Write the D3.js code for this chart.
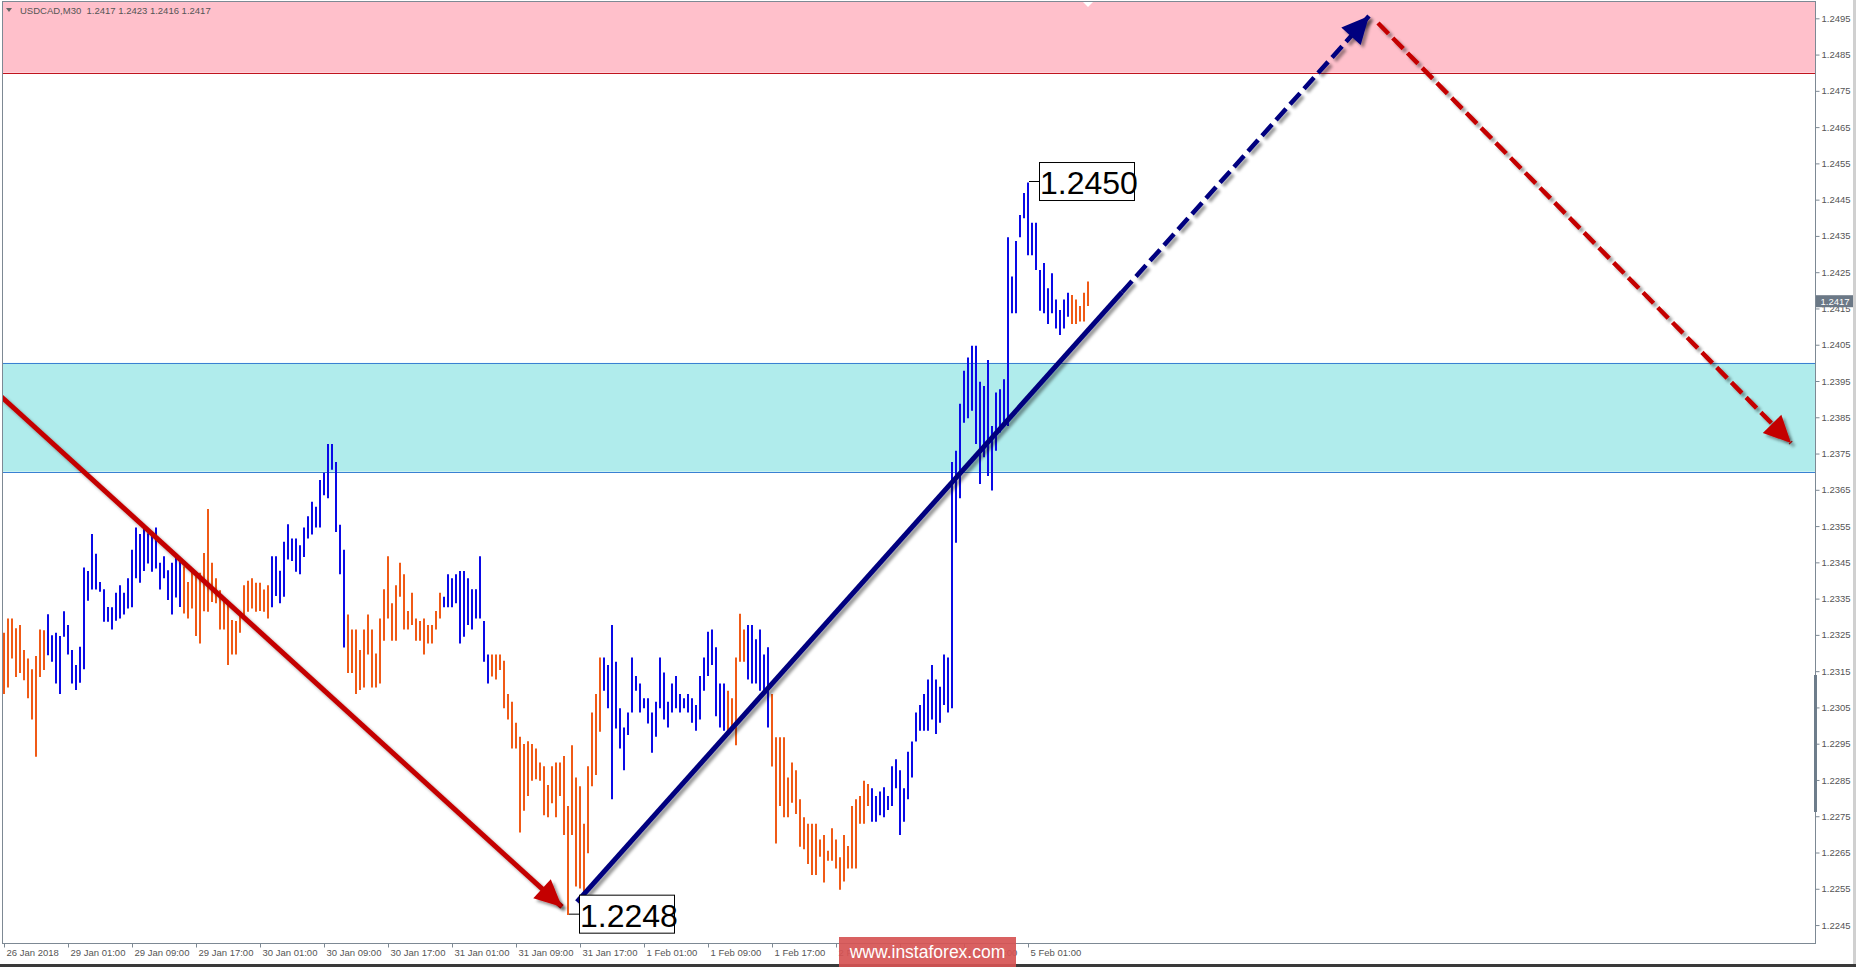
<!DOCTYPE html>
<html><head><meta charset="utf-8">
<script src="https://cdn.jsdelivr.net/npm/d3@7"></script>
<style>
html,body{margin:0;padding:0;background:#fff;}
svg{display:block;}
</style></head>
<body>
<svg id="c" width="1856" height="967"></svg>
<script>
// ---------- DATA ----------
const symbolTitle = "USDCAD,M30  1.2417 1.2423 1.2416 1.2417";

const highs = [
1.23256,1.23295,1.23295,1.23268,1.23277,1.23208,1.23185,1.23155,1.23192,1.23265,
1.23263,1.23307,1.23249,1.23256,1.23247,1.23315,1.23277,1.23208,1.23167,1.23217,
1.23436,1.23426,1.23528,1.23474,1.23396,1.23376,1.23327,1.23326,1.23366,1.23387,
1.23366,1.23406,1.23485,1.23546,1.23528,1.23546,1.23530,1.23528,1.23546,1.23449,
1.23467,1.23428,1.23449,1.23470,1.23465,1.23439,1.23396,1.23426,1.23412,1.23421,
1.23476,1.23597,1.23449,1.23406,1.23373,1.23346,1.23341,1.23291,1.23288,1.23316,
1.23387,1.23399,1.23406,1.23394,1.23394,1.23375,1.23387,1.23467,1.23467,1.23427,
1.23507,1.23555,1.23516,1.23516,1.23497,1.23546,1.23577,1.23617,1.23603,1.23677,
1.23697,1.23776,1.23776,1.23727,1.23554,1.23485,1.23306,1.23265,1.23265,1.23208,
1.23265,1.23306,1.23265,1.23199,1.23295,1.23376,1.23467,1.23337,1.23387,1.23449,
1.23417,1.23316,1.23366,1.23295,1.23288,1.23295,1.23277,1.23277,1.23316,1.23366,
1.23355,1.23417,1.23406,1.23417,1.23426,1.23426,1.23406,1.23376,1.23376,1.23467,
1.23288,1.23196,1.23196,1.23196,1.23196,1.23179,1.23087,1.23066,1.23008,1.22969,
1.22949,1.22957,1.22949,1.22937,1.22898,1.22888,1.22836,1.22888,1.22898,1.22898,
1.22916,1.22778,1.22946,1.22857,1.22833,1.22729,1.22888,1.23036,1.23087,1.23188,
1.23188,1.23167,1.23277,1.23176,1.23048,1.22995,1.23036,1.23188,1.23137,1.23116,
1.23075,1.23075,1.23036,1.23066,1.23188,1.23146,1.23066,1.23116,1.23137,1.23087,
1.23075,1.23087,1.23075,1.23057,1.23137,1.23188,1.23259,1.23265,1.23216,1.23116,
1.23116,1.23096,1.23075,1.23188,1.23308,1.23265,1.23277,1.23277,1.23238,1.23265,
1.23196,1.23216,1.23087,1.22968,1.22968,1.22968,1.22857,1.22898,1.22877,1.22797,
1.22747,1.22729,1.22729,1.22729,1.22686,1.22698,1.22655,1.22717,1.22686,1.22637,
1.22698,1.22668,1.22778,1.22797,1.22806,1.22848,1.22839,1.22827,1.22806,1.22818,
1.22830,1.22806,1.22888,1.22907,1.22877,1.22827,1.22928,1.22956,1.23036,1.23057,
1.23087,1.23127,1.23167,1.23127,1.23107,1.23196,1.23188,1.23727,1.23758,1.23887,
1.23978,1.24015,1.24047,1.24047,1.23948,1.23936,1.24008,1.23826,1.23918,1.23927,
1.23955,1.24346,1.24238,1.24336,1.24408,1.24468,1.24497,1.24386,1.24386,1.24256,
1.24275,1.24206,1.24247,1.24175,1.24146,1.24175,1.24193,1.24187,1.24175,1.24157,
1.24193,1.24224];

const lows = [
1.23087,1.23105,1.23185,1.23134,1.23145,1.23125,1.23075,1.23017,1.22914,1.23134,
1.23153,1.23194,1.23176,1.23116,1.23087,1.23245,1.23196,1.23116,1.23098,1.23118,
1.23155,1.23344,1.23375,1.23375,1.23369,1.23286,1.23286,1.23265,1.23289,1.23295,
1.23306,1.23323,1.23326,1.23406,1.23394,1.23426,1.23447,1.23424,1.23433,1.23375,
1.23406,1.23346,1.23306,1.23353,1.23327,1.23309,1.23295,1.23323,1.23247,1.23226,
1.23315,1.23314,1.23341,1.23337,1.23265,1.23265,1.23167,1.23196,1.23196,1.23256,
1.23300,1.23314,1.23323,1.23314,1.23316,1.23314,1.23295,1.23326,1.23357,1.23337,
1.23355,1.23458,1.23454,1.23424,1.23417,1.23465,1.23516,1.23527,1.23546,1.23546,
1.23635,1.23627,1.23705,1.23534,1.23417,1.23215,1.23145,1.23145,1.23087,1.23098,
1.23105,1.23196,1.23105,1.23105,1.23116,1.23234,1.23295,1.23234,1.23234,1.23355,
1.23265,1.23265,1.23277,1.23234,1.23234,1.23196,1.23226,1.23226,1.23265,1.23295,
1.23326,1.23326,1.23326,1.23337,1.23226,1.23245,1.23277,1.23265,1.23295,1.23295,
1.23176,1.23116,1.23135,1.23127,1.23153,1.23048,1.23017,1.22937,1.22937,1.22705,
1.22765,1.22806,1.22848,1.22852,1.22848,1.22753,1.22747,1.22786,1.22747,1.22806,
1.22698,1.22478,1.22698,1.22556,1.22551,1.22519,1.22648,1.22833,1.22864,1.22983,
1.23096,1.23048,1.22797,1.22992,1.22937,1.22877,1.22974,1.23036,1.23096,1.23036,
1.23048,1.23006,1.22925,1.22969,1.23048,1.23017,1.22995,1.23036,1.23048,1.23036,
1.23048,1.23036,1.23008,1.22986,1.23017,1.23096,1.23137,1.23167,1.23026,1.22995,
1.22986,1.22986,1.22997,1.22946,1.23176,1.23176,1.23127,1.23116,1.23116,1.23096,
1.23096,1.22995,1.22887,1.22675,1.22778,1.22747,1.22747,1.22787,1.22756,1.22666,
1.22659,1.22618,1.22588,1.22588,1.22638,1.22567,1.22627,1.22627,1.22606,1.22547,
1.22570,1.22606,1.22606,1.22606,1.22729,1.22729,1.22778,1.22735,1.22735,1.22753,
1.22747,1.22767,1.22778,1.22827,1.22698,1.22735,1.22797,1.22857,1.22956,1.22986,
1.22986,1.22986,1.23017,1.22977,1.23008,1.23057,1.23036,1.23048,1.23504,1.23627,
1.23835,1.23847,1.23868,1.23776,1.23666,1.23740,1.23688,1.23648,1.23758,1.23808,
1.23826,1.23826,1.24137,1.24137,1.24346,1.24399,1.24297,1.24297,1.24256,1.24144,
1.24137,1.24107,1.24137,1.24095,1.24077,1.24095,1.24127,1.24107,1.24107,1.24114,
1.24114,1.24157];

// bar direction runs: u = up (blue), d = down (orange)
const barDirectionRuns = [["d",11],["u",34],["d",22],["u",19],["d",24],["u",12],["d",28],["u",31],["d",5],["u",6],["d",25],["u",50],["d",5]];

const timeTickBars = [0,16,32,48,64,80,96,112,128,144,160,176,192,208,224,240,256];
const timeTickLabels = ["26 Jan 2018","29 Jan 01:00","29 Jan 09:00","29 Jan 17:00","30 Jan 01:00","30 Jan 09:00","30 Jan 17:00","31 Jan 01:00","31 Jan 09:00","31 Jan 17:00","1 Feb 01:00","1 Feb 09:00","1 Feb 17:00","2 Feb 01:00","2 Feb 09:00","2 Feb 17:00","5 Feb 01:00"];

const priceTicks = [1.2245,1.2255,1.2265,1.2275,1.2285,1.2295,1.2305,1.2315,1.2325,1.2335,1.2345,1.2355,1.2365,1.2375,1.2385,1.2395,1.2405,1.2415,1.2425,1.2435,1.2445,1.2455,1.2465,1.2475,1.2485,1.2495];

const resistanceZone = [1.2480, 1.2500];
const supportZone = [1.2370, 1.2400];
const currentPrice = 1.2417;

const extremeLabels = [
  {bar: 256, price: 1.2450, text: "1.2450"},
  {bar: 141, price: 1.2248, text: "1.2248"}
];

// wave lines: [barIndex, price]
const waveDown = [[-1, 1.2391], [139.5, 1.2250]];
const waveUpSolid = [[143.25, 1.22514], [279.5, 1.24195]];
const waveUpDashed = [[279.5, 1.24195], [341.25, 1.24956]];
const waveDownDashed = [[343.5, 1.24937], [446.75, 1.23779]];

const watermark = "www.instaforex.com";

// ---------- RENDER ----------
const svg = d3.select("#c");
const W = 1856, H = 967;
const plotL = 3, plotT = 2, plotR = 1815, plotB = 943;

const x = d3.scaleLinear().domain([0, 452.75]).range([4, 1815]);
const y = d3.scaleLinear().domain([1.2245, 1.2495]).range([925.05, 18.3]);

const dirs = [];
barDirectionRuns.forEach(([d, n]) => { for (let k = 0; k < n; k++) dirs.push(d); });
const bars = highs.map((h, i) => ({i, h, l: lows[i], d: dirs[i]}));

const defs = svg.append("defs");
defs.append("clipPath").attr("id", "plotclip").append("rect")
  .attr("x", plotL).attr("y", plotT).attr("width", plotR - plotL).attr("height", plotB - plotT);
const sh = defs.append("filter").attr("id", "shadow").attr("x", "-20%").attr("y", "-20%").attr("width", "140%").attr("height", "140%");
sh.append("feDropShadow").attr("dx", 3).attr("dy", 3).attr("stdDeviation", 1.6)
  .attr("flood-color", "#000").attr("flood-opacity", 0.4);

svg.append("rect").attr("width", W).attr("height", H).attr("fill", "#fff");

const plot = svg.append("g").attr("clip-path", "url(#plotclip)");

// zones
plot.append("rect").attr("x", plotL).attr("width", plotR - plotL)
  .attr("y", y(resistanceZone[1])).attr("height", y(resistanceZone[0]) - y(resistanceZone[1]))
  .attr("fill", "#ffc0cb");
plot.append("line").attr("x1", plotL).attr("x2", plotR)
  .attr("y1", Math.round(y(resistanceZone[0])) + 0.5).attr("y2", Math.round(y(resistanceZone[0])) + 0.5)
  .attr("stroke", "#c0141e").attr("stroke-width", 1);

plot.append("rect").attr("x", plotL).attr("width", plotR - plotL)
  .attr("y", y(supportZone[1])).attr("height", y(supportZone[0]) - y(supportZone[1]))
  .attr("fill", "#b0ecec");
supportZone.forEach(p => {
  plot.append("line").attr("x1", plotL).attr("x2", plotR)
    .attr("y1", Math.round(y(p)) + 0.5).attr("y2", Math.round(y(p)) + 0.5)
    .attr("stroke", "#3a80d2").attr("stroke-width", 1);
});

// bars
plot.append("g").selectAll("line").data(bars).join("line")
  .attr("x1", d => x(d.i)).attr("x2", d => x(d.i))
  .attr("y1", d => y(d.h)).attr("y2", d => Math.max(y(d.l), y(d.h) + 1))
  .attr("stroke", d => d.d === "u" ? "#0a0ae6" : "#f05a16")
  .attr("stroke-width", 2);

// wave lines
function pt(p) { return [x(p[0]), y(p[1])]; }
function drawLine(pts, color, width, dash) {
  const a = pt(pts[0]), b = pt(pts[1]);
  const l = plot.append("line").attr("x1", a[0]).attr("y1", a[1]).attr("x2", b[0]).attr("y2", b[1])
    .attr("stroke", color).attr("stroke-width", width).attr("filter", "url(#shadow)");
  if (dash) l.attr("stroke-dasharray", dash);
}
function drawHead(pts, color) {
  const a = pt(pts[0]), b = pt(pts[1]);
  const dx = b[0] - a[0], dy = b[1] - a[1], len = Math.hypot(dx, dy);
  const ux = dx / len, uy = dy / len, nx = -uy, ny = ux;
  const L = 27, hw = 13;
  const bx = b[0] - ux * L, by = b[1] - uy * L;
  plot.append("path")
    .attr("d", `M${b[0]},${b[1]}L${bx + nx * hw},${by + ny * hw}L${bx - nx * hw},${by - ny * hw}Z`)
    .attr("fill", color).attr("filter", "url(#shadow)");
}
drawLine(waveDown, "#c40000", 5);
drawHead(waveDown, "#c40000");
drawLine(waveUpSolid, "#00007f", 5);
drawLine(waveUpDashed, "#00007f", 4.5, "15,6");
drawHead(waveUpDashed, "#00007f");
drawLine(waveDownDashed, "#c40000", 4.5, "15,6");
drawHead(waveDownDashed, "#c40000");

// extreme labels
extremeLabels.forEach(lb => {
  const bx = x(lb.bar), by = y(lb.price);
  const left = bx + 11.5;
  plot.append("line").attr("x1", bx + 1).attr("x2", left).attr("y1", by).attr("y2", by)
    .attr("stroke", "#000").attr("stroke-width", 1);
  plot.append("rect").attr("x", left).attr("y", by - 19).attr("width", 95).attr("height", 38)
    .attr("fill", "#fff").attr("stroke", "#000").attr("stroke-width", 1);
  plot.append("text").attr("x", left + 0.5).attr("y", by + 12.5)
    .attr("font-family", "Liberation Sans, Arial, sans-serif").attr("font-size", 32)
    .attr("fill", "#000").text(lb.text);
});

// shift marker
plot.append("path").attr("d", `M${x(271)-5},${plotT}L${x(271)+5},${plotT}L${x(271)},${plotT+5}Z`).attr("fill", "#fff");

// frame
const frameC = "#7d8994";
svg.append("line").attr("x1", 2.5).attr("x2", 2.5).attr("y1", 1).attr("y2", plotB).attr("stroke", frameC);
svg.append("line").attr("x1", 2).attr("x2", plotR).attr("y1", 1.5).attr("y2", 1.5).attr("stroke", frameC);
svg.append("line").attr("x1", plotR + 0.5).attr("x2", plotR + 0.5).attr("y1", 1).attr("y2", plotB + 1).attr("stroke", frameC);
svg.append("line").attr("x1", 2).attr("x2", plotR + 1).attr("y1", plotB + 0.5).attr("y2", plotB + 0.5).attr("stroke", frameC);

// header
svg.append("path").attr("d", "M6,8L12,8L9,12Z").attr("fill", "#666");
svg.append("text").attr("x", 20).attr("y", 13.5)
  .attr("font-family", "Liberation Sans, Arial, sans-serif").attr("font-size", 9.5)
  .attr("fill", "#555").attr("xml:space", "preserve").style("white-space", "pre").text(symbolTitle);

// y axis
const yAxis = d3.axisRight(y).tickValues(priceTicks).tickSize(4).tickPadding(2).tickFormat(d3.format(".4f"));
const gy = svg.append("g").attr("transform", `translate(${plotR + 0.5},0)`).call(yAxis);
gy.select(".domain").remove();
gy.selectAll("line").attr("stroke", frameC);
gy.selectAll("text").attr("font-family", "Liberation Sans, Arial, sans-serif").attr("font-size", 9.5).attr("fill", "#555");

// gray scroll marker on axis
svg.append("rect").attr("x", plotR - 1).attr("y", 675).attr("width", 3).attr("height", 137).attr("fill", "#6e7d8b");

// current price box
const cy = y(currentPrice);
svg.append("rect").attr("x", plotR + 1).attr("y", cy - 6).attr("width", 37).attr("height", 12).attr("fill", "#6b7886");
svg.append("text").attr("x", plotR + 5.5).attr("y", cy + 3.5)
  .attr("font-family", "Liberation Sans, Arial, sans-serif").attr("font-size", 9.5)
  .attr("fill", "#fff").text(d3.format(".4f")(currentPrice));

// x axis
const xAxis = d3.axisBottom(x).tickValues(timeTickBars).tickSize(4).tickFormat((d, i) => timeTickLabels[i]);
const gx = svg.append("g").attr("transform", `translate(0,${plotB + 0.5})`).call(xAxis);
gx.select(".domain").remove();
gx.selectAll("line").attr("stroke", frameC);
gx.selectAll("text").attr("text-anchor", "start").attr("x", 2).attr("y", 12).attr("dy", 0)
  .attr("font-family", "Liberation Sans, Arial, sans-serif").attr("font-size", 9.5).attr("fill", "#555");

// outer window borders
svg.append("rect").attr("x", 1853).attr("y", 0).attr("width", 3).attr("height", H).attr("fill", "#d0d0d0");
svg.append("rect").attr("x", 0).attr("y", 964).attr("width", W).attr("height", 3).attr("fill", "#3a3a3a");

// watermark
svg.append("rect").attr("x", 839).attr("y", 937).attr("width", 177).attr("height", 30)
  .attr("fill", "#d65454").attr("opacity", 0.92);
svg.append("text").attr("x", 927.5).attr("y", 958).attr("text-anchor", "middle")
  .attr("font-family", "Liberation Sans, Arial, sans-serif").attr("font-size", 17.5)
  .attr("fill", "#fff").text(watermark);
</script>
</body></html>
